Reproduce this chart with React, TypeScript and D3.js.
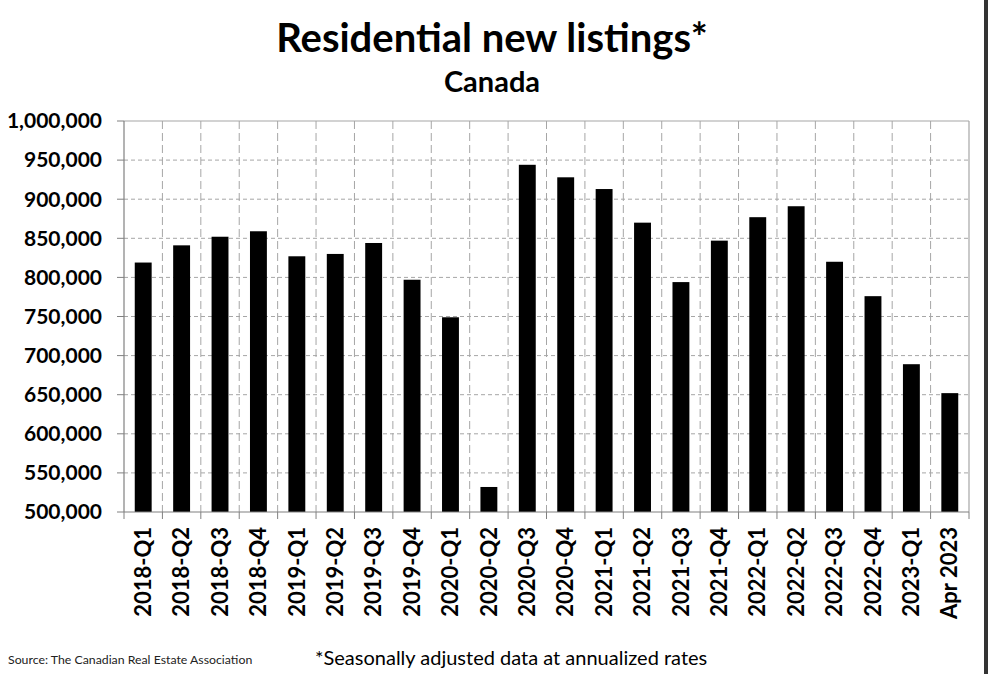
import React from "react";
import * as d3 from "d3";

const categories = ["2018-Q1","2018-Q2","2018-Q3","2018-Q4","2019-Q1","2019-Q2","2019-Q3","2019-Q4","2020-Q1","2020-Q2","2020-Q3","2020-Q4","2021-Q1","2021-Q2","2021-Q3","2021-Q4","2022-Q1","2022-Q2","2022-Q3","2022-Q4","2023-Q1","Apr 2023"];
const values = [819000,841000,852000,859000,827000,830000,844000,797000,749000,532000,944000,928000,913000,870000,794000,847000,877000,891000,820000,776000,689000,652000];
const yTicks = [500000,550000,600000,650000,700000,750000,800000,850000,900000,950000,1000000];

const W = 988, H = 674;
const L = 124, R = 969, T = 121, B = 512;
const FONT = "Lato, 'Open Sans', sans-serif";

export default function App() {
  const x = d3.scaleBand<string>().domain(categories).range([L, R]).paddingInner(0.56).paddingOuter(0.28);
  const step = (R - L) / categories.length;
  const y = d3.scaleLinear().domain([500000, 1000000]).range([B, T]);
  const fmt = d3.format(",");
  const grey = "#a6a6a6";
  return (
    <svg width={W} height={H} style={{ position: "absolute", left: 0, top: 0, background: "#fff" }}>
      <rect x={0} y={0} width={W} height={H} fill="#fff" />
      <text x={492} y={52} textAnchor="middle" fontFamily={FONT} fontWeight={700} fontSize={40} fill="#000">Residential new listings*</text>
      <text x={492} y={92} textAnchor="middle" fontFamily={FONT} fontWeight={700} fontSize={29} fill="#000">Canada</text>
      {yTicks.map((t) => (
        <g key={t}>
          {t !== 500000 && t !== 1000000 && (
            <line x1={L} x2={R} y1={y(t)} y2={y(t)} stroke={grey} strokeWidth={1} strokeDasharray="4,3" />
          )}
          <line x1={L - 7} x2={L} y1={y(t)} y2={y(t)} stroke="#808080" strokeWidth={1} />
          <text x={102} y={y(t)} dy="0.35em" textAnchor="end" fontFamily={FONT} fontWeight={700} fontSize={21} fill="#000">{fmt(t)}</text>
        </g>
      ))}
      {categories.map((c, i) => {
        const gx = L + step * (i + 1);
        return (
          <g key={"g" + c}>
            {i < categories.length - 1 && (
              <line x1={gx} x2={gx} y1={T} y2={B} stroke={grey} strokeWidth={1} strokeDasharray="8,4" />
            )}
            <line x1={L + step * i} x2={L + step * i} y1={B} y2={B + 7} stroke="#808080" strokeWidth={1} />
          </g>
        );
      })}
      <line x1={R} x2={R} y1={B} y2={B + 7} stroke="#808080" strokeWidth={1} />
      <line x1={L} x2={R} y1={T} y2={T} stroke={grey} strokeWidth={1.2} />
      <line x1={R} x2={R} y1={T} y2={B} stroke={grey} strokeWidth={1.2} />
      {categories.map((c, i) => (
        <rect key={c} x={x(c)} y={y(values[i])} width={x.bandwidth()} height={B - y(values[i])} fill="#000" />
      ))}
      <line x1={L} x2={L} y1={T} y2={B} stroke="#808080" strokeWidth={1.2} />
      <line x1={L} x2={R} y1={B} y2={B} stroke="#808080" strokeWidth={1.2} />
      {categories.map((c) => {
        const cx = (x(c) as number) + x.bandwidth() / 2;
        return (
          <text key={"l" + c} transform={`translate(${cx},${527}) rotate(-90)`} dy="0.35em" textAnchor="end" fontFamily={FONT} fontWeight={700} fontSize={22} fill="#000">{c}</text>
        );
      })}
      <text x={8} y={664} fontFamily={FONT} fontSize={12.3} fill="#222">Source: The Canadian Real Estate Association</text>
      <text x={315} y={665} fontFamily={FONT} fontSize={20} fill="#000">*Seasonally adjusted data at annualized rates</text>
      <rect x={984} y={0} width={4} height={H} fill="#333" />
    </svg>
  );
}
